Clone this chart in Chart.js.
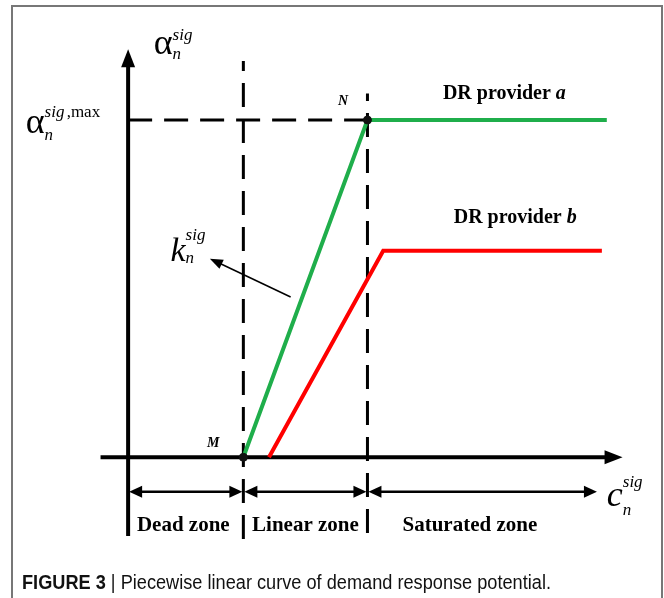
<!DOCTYPE html>
<html>
<head>
<meta charset="utf-8">
<title>Piecewise linear curve of demand response potential</title>
<script src="https://cdn.jsdelivr.net/npm/chart.js"></script>
<style>
  html, body { margin: 0; padding: 0; background: #fff; overflow: hidden; }
  #frame {
    position: absolute; left: 11px; top: 5px; width: 648px; height: 620px;
    border: 2px solid #777; border-bottom: none;
  }
  #chart { position: absolute; left: 0; top: 0; }
  #caption {
    position: absolute; left: 22px; top: 571px; color: #111; white-space: nowrap;
    font: 20px 'Liberation Sans', Arial, sans-serif; transform-origin: 0 0;
  }
  #caption b { font-weight: bold; }
</style>
</head>
<body>
<div id="frame"></div>
<canvas id="chart" width="664" height="598"></canvas>
<div id="caption"><b>FIGURE 3</b> | Piecewise linear curve of demand response potential.</div>

<script>
  // break points of the two curves (c on x, alpha on y)
  const providerA_c = [11.7, 24.3, 48.6];
  const providerA_alpha = [0, 34.3, 34.3];
  const providerB_c = [14.3, 25.9, 48.1];
  const providerB_alpha = [0, 21.0, 21.0];

  const cDead = 11.7;     // point M
  const cSat = 24.3;      // point N
  const alphaMax = 34.3;

  // axis extents
  const xAxisRange = [-2.8, 50.2];
  const yAxisRange = [-8.0, 41.5];
  const deadLineRange = [-8.3, 40.3];
  const satLineRange = [-7.7, 37.0];

  // zones under the x axis
  const zoneNames = ['Dead zone', 'Linear zone', 'Saturated zone'];
  const zoneEdges = [0, 11.7, 24.3, 47.7];
  const zoneLabelX = [5.6, 18.0, 34.7];
  const zoneArrowY = -3.5;
  const zoneLabelY = -7.5;

  // slope pointer
  const kArrowFrom = [16.5, 16.3];
  const kArrowTo = [8.3, 20.2];

  const toPts = (xs, ys) => xs.map((x, i) => ({ x: x, y: ys[i] }));

  const GREEN = '#1fae4b';
  const RED = '#ff0000';
  const SERIF = "'Liberation Serif', 'Times New Roman', serif";

  // squeeze the caption to the condensed width of the original
  const cap = document.getElementById('caption');
  cap.style.transform = 'scaleX(' + (529 / cap.getBoundingClientRect().width) + ')';

  function arrowHead(ctx, x1, y1, x2, y2, len, half) {
    const a = Math.atan2(y2 - y1, x2 - x1);
    ctx.beginPath();
    ctx.moveTo(x2, y2);
    ctx.lineTo(x2 - len * Math.cos(a) + half * Math.sin(a), y2 - len * Math.sin(a) - half * Math.cos(a));
    ctx.lineTo(x2 - len * Math.cos(a) - half * Math.sin(a), y2 - len * Math.sin(a) + half * Math.cos(a));
    ctx.closePath();
    ctx.fill();
  }

  // base glyph with superscript and subscript
  function mathLabel(ctx, x, y, base, baseFont, sup, rise, sub, drop) {
    ctx.textAlign = 'left';
    ctx.textBaseline = 'alphabetic';
    ctx.font = baseFont;
    ctx.fillText(base, x, y);
    const w = ctx.measureText(base).width;
    ctx.font = 'italic 17px ' + SERIF;
    ctx.fillText(sup, x + w, y - rise);
    ctx.fillText(sub, x + w, y + drop);
    return w;
  }

  const axesPlugin = {
    id: 'axesPlugin',
    beforeDatasetsDraw(chart) {
      const ctx = chart.ctx;
      const px = v => chart.scales.x.getPixelForValue(v);
      const py = v => chart.scales.y.getPixelForValue(v);
      ctx.save();
      ctx.strokeStyle = '#000';
      ctx.fillStyle = '#000';
      ctx.lineWidth = 4;
      // y axis
      ctx.beginPath();
      ctx.moveTo(px(0), py(yAxisRange[0]));
      ctx.lineTo(px(0), py(yAxisRange[1]) + 12);
      ctx.stroke();
      arrowHead(ctx, px(0), py(0), px(0), py(yAxisRange[1]), 18, 7);
      // x axis
      ctx.beginPath();
      ctx.moveTo(px(xAxisRange[0]), py(0));
      ctx.lineTo(px(xAxisRange[1]) - 12, py(0));
      ctx.stroke();
      arrowHead(ctx, px(0), py(0), px(xAxisRange[1]), py(0), 18, 7);
      ctx.restore();
    },
    afterDatasetsDraw(chart) {
      const ctx = chart.ctx;
      const px = v => chart.scales.x.getPixelForValue(v);
      const py = v => chart.scales.y.getPixelForValue(v);
      ctx.save();
      ctx.fillStyle = '#000';
      ctx.strokeStyle = '#000';

      // zone double arrows
      ctx.lineWidth = 2.5;
      for (let i = 0; i < zoneNames.length; i++) {
        const a = px(zoneEdges[i]) + 1, b = px(zoneEdges[i + 1]) - 1, y = py(zoneArrowY);
        ctx.beginPath();
        ctx.moveTo(a + 6, y);
        ctx.lineTo(b - 6, y);
        ctx.stroke();
        arrowHead(ctx, b, y, a, y, 13, 6);
        arrowHead(ctx, a, y, b, y, 13, 6);
      }
      ctx.font = 'bold 21px ' + SERIF;
      ctx.textAlign = 'center';
      ctx.textBaseline = 'alphabetic';
      zoneNames.forEach((name, i) => ctx.fillText(name, px(zoneLabelX[i]), py(zoneLabelY)));

      // slope pointer
      ctx.lineWidth = 1.5;
      const fx = px(kArrowFrom[0]), fy = py(kArrowFrom[1]);
      const tx = px(kArrowTo[0]), ty = py(kArrowTo[1]);
      ctx.beginPath();
      ctx.moveTo(fx, fy);
      ctx.lineTo(tx + (fx - tx) * 0.1, ty + (fy - ty) * 0.1);
      ctx.stroke();
      arrowHead(ctx, fx, fy, tx, ty, 13, 5);

      // provider names
      ctx.textAlign = 'left';
      const provider = (name, letter, cx, y) => {
        ctx.font = 'bold 20px ' + SERIF;
        const w1 = ctx.measureText(name + ' ').width;
        ctx.font = 'bold italic 20px ' + SERIF;
        const w2 = ctx.measureText(letter).width;
        const x0 = px(cx) - (w1 + w2) / 2;
        ctx.font = 'bold 20px ' + SERIF;
        ctx.fillText(name + ' ', x0, py(y));
        ctx.font = 'bold italic 20px ' + SERIF;
        ctx.fillText(letter, x0 + w1, py(y));
      };
      provider('DR provider', 'a', 38.2, 36.4);
      provider('DR provider', 'b', 39.3, 23.8);

      // point names
      ctx.font = 'bold italic 14px ' + SERIF;
      ctx.fillText('M', px(8.0), py(1.0));
      ctx.fillText('N', px(21.3), py(35.8));

      // symbols
      mathLabel(ctx, px(2.6), py(41.0), '\u03b1', '36px ' + SERIF, 'sig', 14, 'n', 5);
      const aw = mathLabel(ctx, px(-10.4), py(33.0), '\u03b1', '36px ' + SERIF, 'sig', 16, 'n', 7);
      ctx.font = 'italic 17px ' + SERIF;
      const sw = ctx.measureText('sig ').width;
      ctx.font = '17px ' + SERIF;
      ctx.fillText(',max', px(-10.4) + aw + sw - 2, py(33.0) - 16);
      mathLabel(ctx, px(4.3), py(20.0), 'k', 'italic 34px ' + SERIF, 'sig', 21, 'n', 2);
      mathLabel(ctx, px(48.6), py(-5.0), 'c', 'italic 36px ' + SERIF, 'sig', 19, 'n', 9);
      ctx.restore();
    }
  };

  const dash = [24, 12];
  new Chart(document.getElementById('chart').getContext('2d'), {
    type: 'scatter',
    data: {
      datasets: [
        {
          data: toPts([cDead, cSat], [0, alphaMax]),
          pointRadius: 4, pointBackgroundColor: '#111', pointBorderColor: '#111',
          showLine: false, order: 1
        },
        {
          data: toPts(providerA_c, providerA_alpha),
          showLine: true, borderColor: GREEN, borderWidth: 4, pointRadius: 0, order: 2
        },
        {
          data: toPts(providerB_c, providerB_alpha),
          showLine: true, borderColor: RED, borderWidth: 4, pointRadius: 0, order: 2
        },
        {
          data: toPts([0, cSat], [alphaMax, alphaMax]),
          showLine: true, borderColor: '#000', borderWidth: 3, borderDash: dash, pointRadius: 0, order: 3
        },
        {
          data: toPts([cDead, cDead], deadLineRange),
          showLine: true, borderColor: '#000', borderWidth: 3, borderDash: dash, pointRadius: 0, order: 3
        },
        {
          data: toPts([cSat, cSat], satLineRange),
          showLine: true, borderColor: '#000', borderWidth: 3, borderDash: dash, pointRadius: 0, order: 3
        }
      ]
    },
    options: {
      responsive: false,
      devicePixelRatio: 1,
      animation: false,
      events: [],
      layout: { padding: 0 },
      scales: {
        x: { type: 'linear', display: false, min: -12.5, max: 53.9 },
        y: { type: 'linear', display: false, min: -13.8, max: 46.0 }
      },
      plugins: { legend: { display: false }, tooltip: { enabled: false } }
    },
    plugins: [axesPlugin]
  });
</script>
</body>
</html>
